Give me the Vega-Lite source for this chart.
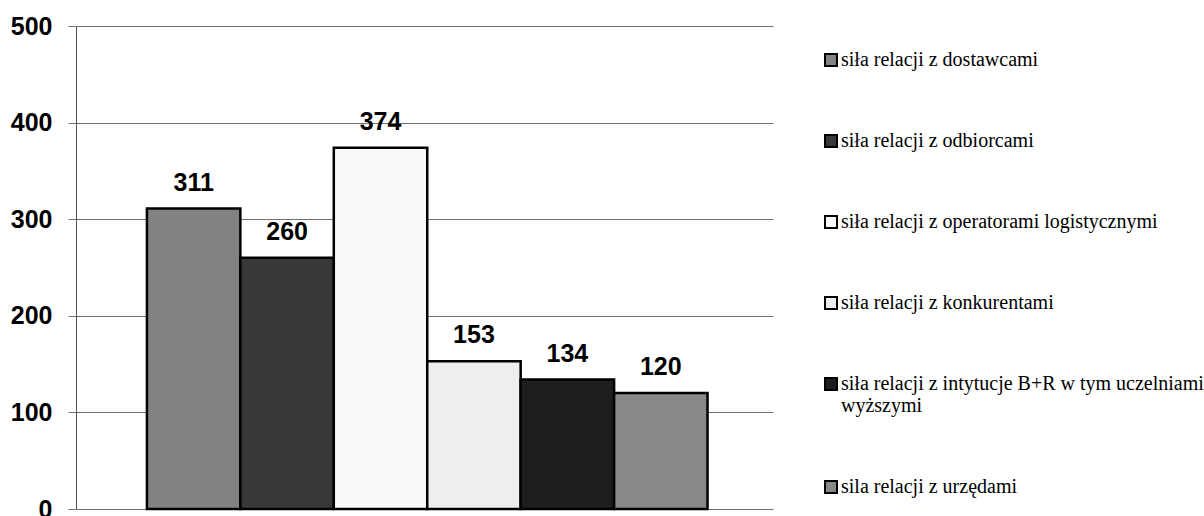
{
  "$schema": "https://vega.github.io/schema/vega-lite/v6.json",
  "width": 697,
  "height": 483,
  "autosize": {"type": "none"},
  "padding": {"left": 76, "top": 26, "right": 431, "bottom": 7},
  "background": "white",
  "data": {"values": [
    {"seria": "siła relacji z dostawcami", "wartosc": 311},
    {"seria": "siła relacji z odbiorcami", "wartosc": 260},
    {"seria": "siła relacji z operatorami logistycznymi", "wartosc": 374},
    {"seria": "siła relacji z konkurentami", "wartosc": 153},
    {"seria": "siła relacji z intytucje B+R w tym uczelniami wyższymi", "wartosc": 134},
    {"seria": "sila relacji z urzędami", "wartosc": 120}
  ]},
  "config": {
    "view": {"stroke": null},
    "legend": {
      "orient": "none",
      "legendX": 745,
      "legendY": 24,
      "title": null,
      "symbolType": "square",
      "symbolSize": 144,
      "symbolStrokeColor": "black",
      "symbolStrokeWidth": 2,
      "labelFont": "Liberation Serif",
      "labelFontSize": 20,
      "labelColor": "black",
      "labelOffset": 0,
      "labelLimit": 420,
      "rowPadding": 61
    }
  },
  "encoding": {
    "x": {
      "field": "seria",
      "type": "nominal",
      "sort": null,
      "axis": null,
      "scale": {"paddingInner": 0, "paddingOuter": 0.73, "align": 0.52}
    }
  },
  "layer": [
    {
      "mark": {"type": "bar", "stroke": "black", "strokeWidth": 2.5},
      "encoding": {
        "y": {
          "field": "wartosc",
          "type": "quantitative",
          "scale": {"domain": [0, 500]},
          "axis": {
            "title": null,
            "values": [0, 100, 200, 300, 400, 500],
            "grid": true,
            "gridColor": "#707070",
            "gridWidth": 1,
            "gridOpacity": 1,
            "domainColor": "#555555",
            "domainWidth": 1,
            "tickSize": 8,
            "tickColor": "#707070",
            "labelFont": "Liberation Sans",
            "labelFontWeight": "bold",
            "labelFontSize": 25,
            "labelColor": "black",
            "labelPadding": 16
          }
        },
        "color": {
          "field": "seria",
          "type": "nominal",
          "sort": null,
          "scale": {
            "domain": [
              "siła relacji z dostawcami",
              "siła relacji z odbiorcami",
              "siła relacji z operatorami logistycznymi",
              "siła relacji z konkurentami",
              "siła relacji z intytucje B+R w tym uczelniami wyższymi",
              "sila relacji z urzędami"
            ],
            "range": ["#828282", "#383838", "#fafafa", "#eeeeee", "#1e1e1e", "#888888"]
          },
          "legend": {
            "labelExpr": "datum.label == 'siła relacji z intytucje B+R w tym uczelniami wyższymi' ? ['siła relacji z intytucje B+R w tym uczelniami', 'wyższymi'] : datum.label"
          }
        }
      }
    },
    {
      "mark": {"type": "text", "baseline": "alphabetic", "dy": -18, "font": "Liberation Sans", "fontWeight": "bold", "fontSize": 25, "color": "black"},
      "encoding": {
        "y": {"field": "wartosc", "type": "quantitative"},
        "text": {"field": "wartosc", "type": "quantitative"}
      }
    }
  ]
}
